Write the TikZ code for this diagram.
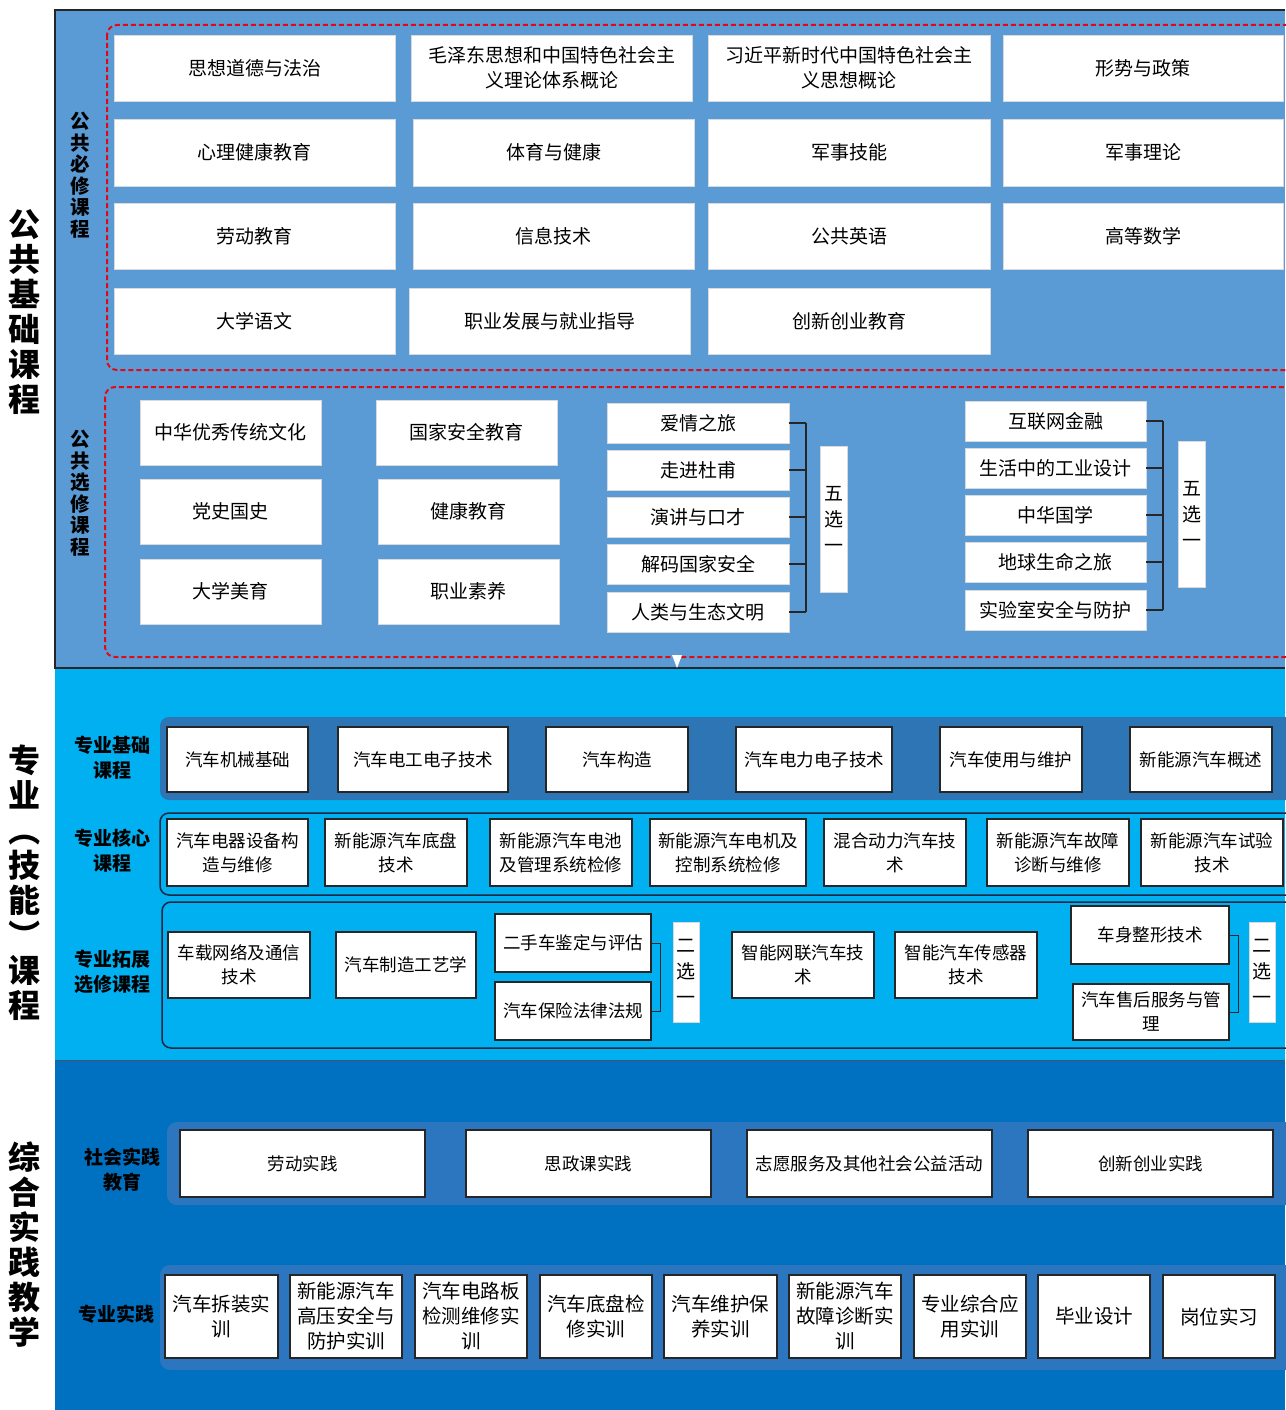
\documentclass[tikz,border=0pt]{standalone}
\usepackage{graphicx}
\usepackage{fontspec}
\setmainfont{Noto Sans CJK SC}
\definecolor{secA}{RGB}{91,155,213}
\definecolor{secB}{RGB}{0,176,240}
\definecolor{secC}{RGB}{0,112,192}
\definecolor{bandB}{RGB}{46,117,182}
\definecolor{bandC}{RGB}{44,118,192}
\definecolor{dashred}{RGB}{225,10,20}
\definecolor{navyline}{RGB}{25,40,65}
\newcommand\kbox[7]{\node[#1,minimum width={(#5-#3)*1pt},minimum height={(#6-#4)*1pt}] (#2) at ({(#3+#5)/2},{(#4+#6)/2}) {#7};}
\newcommand\vlp{\rotatebox[origin=c]{-90}{（}}
\newcommand\vrp{\rotatebox[origin=c]{-90}{）}}
\begin{document}
\begin{tikzpicture}[x=1pt,y=-1pt,
 base/.style={inner sep=0pt, outer sep=0pt, align=center},
 pubbox/.style={base, fill=white, draw=black!15, line width=0.8pt, font=\fontsize{19}{25}\selectfont},
 majbox/.style={base, fill=white, draw=black!85, line width=1.3pt, font=\fontsize{17.5}{24}\selectfont},
 pracbox/.style={base, fill=white, draw=black!85, line width=1.3pt, font=\fontsize{19.5}{25}\selectfont},
 pickbox/.style={base, fill=white, draw=black!15, line width=0.8pt, font=\fontsize{19}{26}\selectfont},
 bigtitle/.style={base, font=\fontsize{32}{35}\bfseries\selectfont},
 subtitle/.style={base, font=\fontsize{19.5}{21.5}\bfseries\selectfont},
 rowlabel/.style={base, font=\fontsize{19}{25}\bfseries\selectfont},
 reddash/.style={draw=dashred, line width=2pt, dash pattern=on 5pt off 3pt, rounded corners=10pt},
 brk/.style={draw=black!85, line width=1.3pt},
 bandline/.style={draw=navyline, line width=1.5pt, rounded corners=9pt},
]
\useasboundingbox (0,0) rectangle (1285,1410);
\fill[white] (0,0) rectangle (1285,1410);
% ---------------- section backgrounds
\fill[secA] (55,10) rectangle (1285,668);
\fill[secB] (55,668) rectangle (1285,1060);
\fill[secC] (55,1060) rectangle (1285,1410);
\draw[black!85, line width=1.2pt] (1285,10) -- (55,10) -- (55,668) -- (1285,668);
\draw[navyline!80, line width=0.8pt] (55,1060) -- (1285,1060);

% ---------------- left titles
\node[bigtitle] (tA) at (25,312) {公\\共\\基\\础\\课\\程};
\node[bigtitle] (tB) at (25,883) {专\\业\\\vlp\\技\\能\\\vrp\\课\\程};
\node[bigtitle] (tC) at (25,1245) {综\\合\\实\\践\\教\\学};

% ---------------- section 1: required
\draw[reddash] (107,25) rectangle (1300,370);
\node[subtitle] (sA1) at (80,175) {公\\共\\必\\修\\课\\程};
\kbox{pubbox}{p11}{114}{35}{395}{101}{思想道德与法治}
\kbox{pubbox}{p12}{411}{35}{692}{101}{毛泽东思想和中国特色社会主\\义理论体系概论}
\kbox{pubbox}{p13}{708}{35}{990}{101}{习近平新时代中国特色社会主\\义思想概论}
\kbox{pubbox}{p14}{1003}{35}{1283}{101}{形势与政策}
\kbox{pubbox}{p21}{114}{119}{395}{186}{心理健康教育}
\kbox{pubbox}{p22}{413}{119}{694}{186}{体育与健康}
\kbox{pubbox}{p23}{708}{119}{990}{186}{军事技能}
\kbox{pubbox}{p24}{1003}{119}{1283}{186}{军事理论}
\kbox{pubbox}{p31}{114}{203}{395}{269}{劳动教育}
\kbox{pubbox}{p32}{413}{203}{694}{269}{信息技术}
\kbox{pubbox}{p33}{708}{203}{990}{269}{公共英语}
\kbox{pubbox}{p34}{1003}{203}{1283}{269}{高等数学}
\kbox{pubbox}{p41}{114}{288}{395}{354}{大学语文}
\kbox{pubbox}{p42}{409}{288}{690}{354}{职业发展与就业指导}
\kbox{pubbox}{p43}{708}{288}{990}{354}{创新创业教育}

% ---------------- section 1: electives
\draw[reddash] (105,387) rectangle (1300,657);
\node[subtitle] (sA2) at (80,493) {公\\共\\选\\修\\课\\程};
\kbox{pubbox}{e11}{140}{400}{321}{465}{中华优秀传统文化}
\kbox{pubbox}{e12}{140}{479}{321}{544}{党史国史}
\kbox{pubbox}{e13}{140}{559}{321}{624}{大学美育}
\kbox{pubbox}{e21}{376}{400}{557}{465}{国家安全教育}
\kbox{pubbox}{e22}{378}{479}{559}{544}{健康教育}
\kbox{pubbox}{e23}{378}{559}{559}{624}{职业素养}
\kbox{pubbox}{e31}{607}{403}{789}{443}{爱情之旅}
\kbox{pubbox}{e32}{607}{450}{789}{490}{走进杜甫}
\kbox{pubbox}{e33}{607}{497}{789}{537}{演讲与口才}
\kbox{pubbox}{e34}{607}{544}{789}{584}{解码国家安全}
\kbox{pubbox}{e35}{607}{592}{789}{632}{人类与生态文明}
\coordinate (bx1) at (806,0);
\foreach \n in {e31,e32,e33,e34,e35} \draw[brk] (\n.east) -- (\n.east -| bx1);
\draw[brk] (e31.east -| bx1) -- (e35.east -| bx1);
\kbox{pickbox}{c1}{820}{446}{847}{592}{五\\选\\一}
\kbox{pubbox}{e41}{965}{401}{1146}{441}{互联网金融}
\kbox{pubbox}{e42}{965}{448}{1146}{488}{生活中的工业设计}
\kbox{pubbox}{e43}{965}{495}{1146}{535}{中华国学}
\kbox{pubbox}{e44}{965}{542}{1146}{582}{地球生命之旅}
\kbox{pubbox}{e45}{965}{590}{1146}{630}{实验室安全与防护}
\coordinate (bx2) at (1163,0);
\foreach \n in {e41,e42,e43,e44,e45} \draw[brk] (\n.east) -- (\n.east -| bx2);
\draw[brk] (e41.east -| bx2) -- (e45.east -| bx2);
\kbox{pickbox}{c2}{1178}{441}{1205}{587}{五\\选\\一}
\fill[white] (672,655) -- (682,655) -- (677,668) -- cycle;

% ---------------- section 2
\fill[bandB, rounded corners=9pt] (160,717) rectangle (1300,800);
\node[rowlabel] (l21) at (112,758) {专业基础\\课程};
\kbox{majbox}{m11}{167}{727}{308}{792}{汽车机械基础}
\kbox{majbox}{m12}{338}{727}{508}{792}{汽车电工电子技术}
\kbox{majbox}{m13}{546}{727}{688}{792}{汽车构造}
\kbox{majbox}{m14}{736}{727}{892}{792}{汽车电力电子技术}
\kbox{majbox}{m15}{940}{727}{1082}{792}{汽车使用与维护}
\kbox{majbox}{m16}{1130}{727}{1272}{792}{新能源汽车概述}

\draw[bandline] (160,813) rectangle (1300,895);
\node[rowlabel] (l22) at (112,851) {专业核心\\课程};
\kbox{majbox}{m21}{167}{819}{308}{886}{汽车电器设备构\\造与维修}
\kbox{majbox}{m22}{325}{819}{467}{886}{新能源汽车底盘\\技术}
\kbox{majbox}{m23}{490}{819}{632}{886}{新能源汽车电池\\及管理系统检修}
\kbox{majbox}{m24}{650}{819}{806}{886}{新能源汽车电机及\\控制系统检修}
\kbox{majbox}{m25}{824}{819}{966}{886}{混合动力汽车技\\术}
\kbox{majbox}{m26}{987}{819}{1129}{886}{新能源汽车故障\\诊断与维修}
\kbox{majbox}{m27}{1141}{819}{1283}{886}{新能源汽车试验\\技术}

\draw[bandline] (162,902) rectangle (1300,1048);
\node[rowlabel] (l23) at (112,972) {专业拓展\\选修课程};
\kbox{majbox}{m31}{168}{932}{310}{998}{车载网络及通信\\技术}
\kbox{majbox}{m32}{336}{932}{476}{998}{汽车制造工艺学}
\kbox{majbox}{m33}{495}{914}{651}{972}{二手车鉴定与评估}
\kbox{majbox}{m34}{495}{982}{651}{1040}{汽车保险法律法规}
\coordinate (bx3) at (660,0);
\draw[brk, line width=1pt] (m33.east) -- (m33.east -| bx3) -- (m34.east -| bx3) -- (m34.east);
\kbox{pickbox}{c3}{673}{922}{699}{1022}{二\\选\\一}
\kbox{majbox}{m35}{732}{932}{874}{998}{智能网联汽车技\\术}
\kbox{majbox}{m36}{895}{932}{1037}{998}{智能汽车传感器\\技术}
\kbox{majbox}{m37}{1071}{906}{1229}{964}{车身整形技术}
\kbox{majbox}{m38}{1073}{984}{1229}{1040}{汽车售后服务与管\\理}
\coordinate (bx4) at (1238,0);
\draw[brk, line width=1pt] (m37.east) -- (m37.east -| bx4) -- (m38.east -| bx4) -- (m38.east);
\kbox{pickbox}{c4}{1249}{922}{1275}{1022}{二\\选\\一}

% ---------------- section 3
\fill[bandC, rounded corners=10pt] (167,1122) rectangle (1300,1205);
\node[rowlabel] (l31) at (122,1170) {社会实践\\教育};
\kbox{majbox}{s11}{180}{1130}{425}{1197}{劳动实践}
\kbox{majbox}{s12}{466}{1130}{711}{1197}{思政课实践}
\kbox{majbox}{s13}{747}{1130}{992}{1197}{志愿服务及其他社会公益活动}
\kbox{majbox}{s14}{1028}{1130}{1273}{1197}{创新创业实践}

\fill[bandC, rounded corners=10pt] (160,1265) rectangle (1300,1370);
\node[rowlabel] (l32) at (116,1314) {专业实践};
\kbox{pracbox}{s21}{165}{1275}{278}{1358}{汽车拆装实\\训}
\kbox{pracbox}{s22}{290}{1275}{402}{1358}{新能源汽车\\高压安全与\\防护实训}
\kbox{pracbox}{s23}{415}{1275}{527}{1358}{汽车电路板\\检测维修实\\训}
\kbox{pracbox}{s24}{540}{1275}{652}{1358}{汽车底盘检\\修实训}
\kbox{pracbox}{s25}{664}{1275}{777}{1358}{汽车维护保\\养实训}
\kbox{pracbox}{s26}{789}{1275}{901}{1358}{新能源汽车\\故障诊断实\\训}
\kbox{pracbox}{s27}{914}{1275}{1026}{1358}{专业综合应\\用实训}
\kbox{pracbox}{s28}{1038}{1275}{1150}{1358}{毕业设计}
\kbox{pracbox}{s29}{1163}{1275}{1275}{1358}{岗位实习}
\end{tikzpicture}
\end{document}
